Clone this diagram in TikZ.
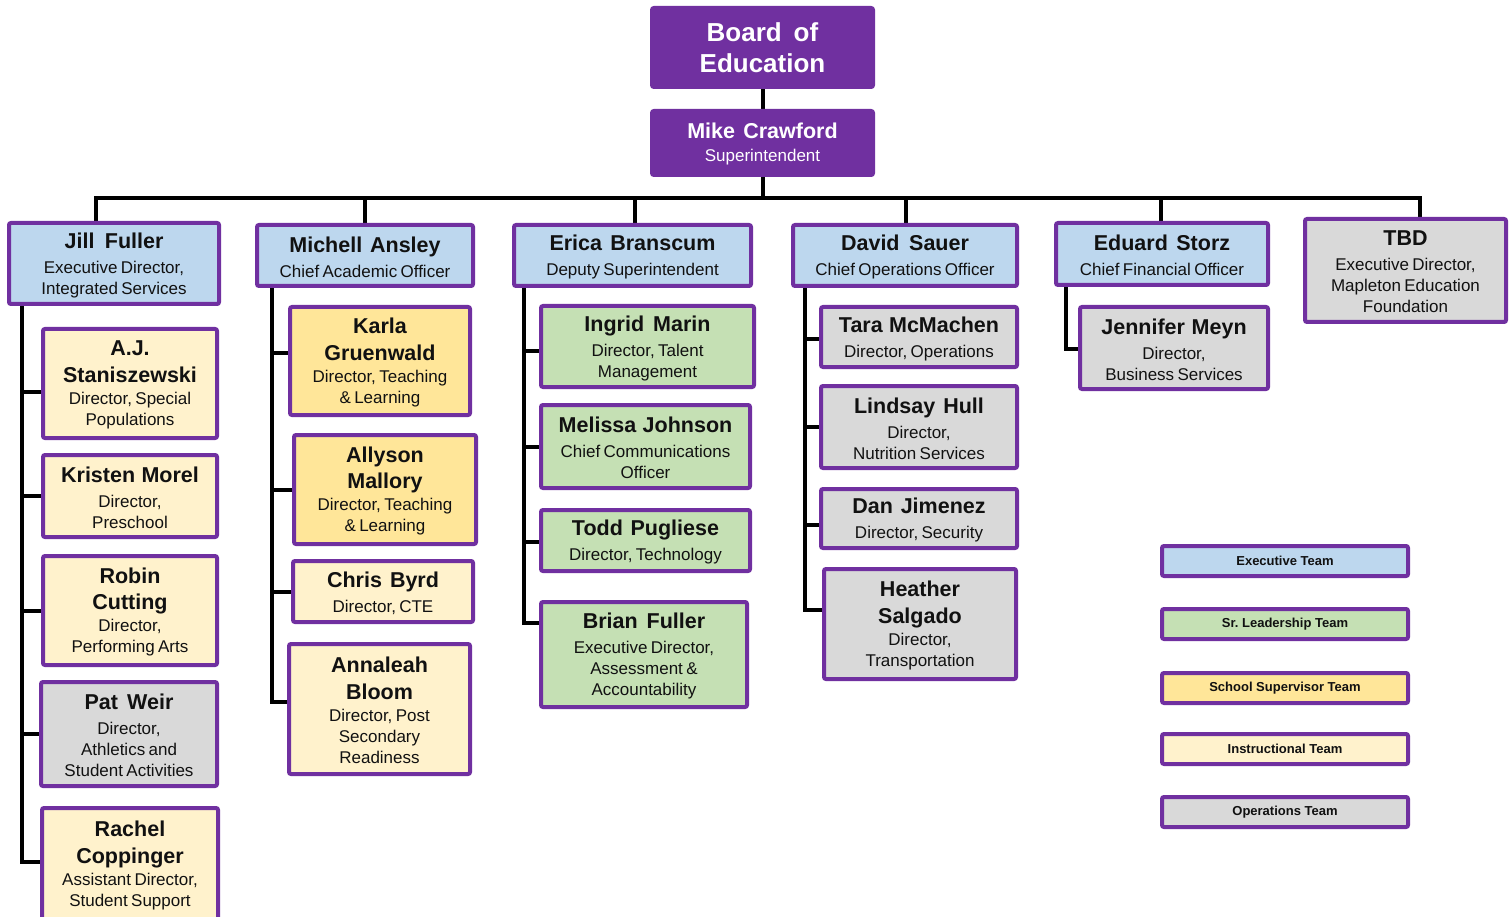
\documentclass[tikz,border=0pt]{standalone}
\usepackage{fontspec}
\setmainfont{Liberation Sans}
\usetikzlibrary{backgrounds}
\frenchspacing
\definecolor{purp}{HTML}{7030A0}
\definecolor{blueF}{HTML}{BDD7EE}
\definecolor{greenF}{HTML}{C5E0B4}
\definecolor{yDark}{HTML}{FFE699}
\definecolor{yLight}{HTML}{FFF2CC}
\definecolor{greyF}{HTML}{D9D9D9}
\definecolor{txt}{HTML}{111111}
\newcommand\orgnm{\fontsize{21.5}{23.5}\selectfont\bfseries\spaceskip=0.22em plus 0.1em}
\newcommand\orgds{\fontsize{17}{21}\selectfont}
\newcommand\orglg{\fontsize{13}{15}\selectfont\bfseries\frenchspacing}
\newcommand\pp[2]{\vspace*{3pt}{\orgnm #1\par}\vspace{1pt}{\orgds #2\par}\vspace*{-3pt}}
\tikzset{
  box/.style={draw=purp, line width=4pt, rounded corners=2pt, align=center, inner sep=3pt, text=txt},
  conn/.style={line width=4pt, black, line join=miter},
  head/.style={box, fill=purp, text=white},
}
\begin{document}
\begin{tikzpicture}[x=1pt,y=-1pt]
\useasboundingbox (0,0) rectangle (1510,917);
\coordinate (bus) at (762.5,198);
\coordinate (tJ) at (22,300);
\coordinate (tM) at (272,284);
\coordinate (tE) at (524,284);
\coordinate (tD) at (805,284);
\coordinate (tS) at (1066,284);

% Top boxes
\node[head, minimum width=221pt, minimum height=79pt, text width=215pt] (board) at (762.5,47.5)
  {\fontsize{26}{31}\selectfont\bfseries\spaceskip=0.2em plus 0.1em Board of\\Education\par};
\node[head, minimum width=221pt, minimum height=64pt, text width=215pt] (mike) at (762.5,143)
  {\vspace*{2pt}{\orgnm Mike Crawford\par}{\orgds Superintendent\par}\vspace*{-2pt}};

% Executive team
\node[box, fill=blueF, minimum width=210pt, minimum height=81pt, text width=204pt] (jill) at (114,263.5)
  {\pp{Jill Fuller}{Executive Director,\\Integrated Services}};
\node[box, fill=blueF, minimum width=216pt, minimum height=61pt, text width=210pt] (michell) at (365,255.5)
  {\pp{Michell Ansley}{Chief Academic Officer}};
\node[box, fill=blueF, minimum width=237pt, minimum height=61pt, text width=231pt] (erica) at (632.5,255.5)
  {\pp{Erica Branscum}{Deputy Superintendent}};
\node[box, fill=blueF, minimum width=224pt, minimum height=61pt, text width=218pt] (david) at (905,255.5)
  {\pp{David Sauer}{Chief Operations Officer}};
\node[box, fill=blueF, minimum width=212pt, minimum height=62pt, text width=206pt] (eduard) at (1162,254)
  {\pp{Eduard Storz}{Chief Financial Officer}};
\node[box, fill=greyF, minimum width=201pt, minimum height=103pt, text width=195pt] (tbd) at (1405.5,270.5)
  {\pp{TBD}{Executive Director,\\Mapleton Education\\Foundation}};

% Jill Fuller column
\node[box, fill=yLight, minimum width=174pt, minimum height=109pt, text width=168pt] (aj) at (130,383.5)
  {\pp{A.J.\\Staniszewski}{Director, Special\\Populations}};
\node[box, fill=yLight, minimum width=174pt, minimum height=82pt, text width=168pt] (kristen) at (130,496)
  {\pp{Kristen Morel}{Director,\\Preschool}};
\node[box, fill=yLight, minimum width=174pt, minimum height=109pt, text width=168pt] (robin) at (130,610.5)
  {\pp{Robin\\Cutting}{Director,\\Performing Arts}};
\node[box, fill=greyF, minimum width=176pt, minimum height=104pt, text width=170pt] (pat) at (129,734)
  {\pp{Pat Weir}{Director,\\Athletics and\\Student Activities}};
\node[box, fill=yLight, minimum width=176pt, minimum height=112pt, text width=170pt] (rachel) at (130,864)
  {\pp{Rachel\\Coppinger}{Assistant Director,\\Student Support}};

% Michell Ansley column
\node[box, fill=yDark, minimum width=180pt, minimum height=108pt, text width=174pt] (karla) at (380,361)
  {\pp{Karla\\Gruenwald}{Director, Teaching\\\& Learning}};
\node[box, fill=yDark, minimum width=182pt, minimum height=109pt, text width=176pt] (allyson) at (385,489.5)
  {\pp{Allyson\\Mallory}{Director, Teaching\\\& Learning}};
\node[box, fill=yLight, minimum width=180pt, minimum height=61pt, text width=174pt] (chris) at (383,591.5)
  {\pp{Chris Byrd}{Director, CTE}};
\node[box, fill=yLight, minimum width=181pt, minimum height=130pt, text width=175pt] (annaleah) at (379.5,709)
  {\pp{Annaleah\\Bloom}{Director, Post\\Secondary\\Readiness}};

% Erica Branscum column
\node[box, fill=greenF, minimum width=213pt, minimum height=81pt, text width=207pt] (ingrid) at (647.5,346.5)
  {\pp{Ingrid Marin}{Director, Talent\\Management}};
\node[box, fill=greenF, minimum width=209pt, minimum height=83pt, text width=203pt] (melissa) at (645.5,446.5)
  {\pp{Melissa Johnson}{Chief Communications\\Officer}};
\node[box, fill=greenF, minimum width=209pt, minimum height=61pt, text width=203pt] (todd) at (645.5,540.5)
  {\pp{Todd Pugliese}{Director, Technology}};
\node[box, fill=greenF, minimum width=206pt, minimum height=105pt, text width=200pt] (brian) at (644,654.5)
  {\pp{Brian Fuller}{Executive Director,\\Assessment \&\\Accountability}};

% David Sauer column
\node[box, fill=greyF, minimum width=196pt, minimum height=60pt, text width=190pt] (tara) at (919,337)
  {\pp{Tara McMachen}{Director, Operations}};
\node[box, fill=greyF, minimum width=196pt, minimum height=82pt, text width=190pt] (lindsay) at (919,427)
  {\pp{Lindsay Hull}{Director,\\Nutrition Services}};
\node[box, fill=greyF, minimum width=196pt, minimum height=59pt, text width=190pt] (dan) at (919,518.5)
  {\pp{Dan Jimenez}{Director, Security}};
\node[box, fill=greyF, minimum width=192pt, minimum height=110pt, text width=186pt] (heather) at (920,624)
  {\pp{Heather\\Salgado}{Director,\\Transportation}};

% Eduard Storz column
\node[box, fill=greyF, minimum width=188pt, minimum height=82pt, text width=182pt] (jennifer) at (1174,348)
  {\pp{Jennifer Meyn}{Director,\\Business Services}};

% Legend
\node[box, fill=blueF, minimum width=246pt, minimum height=30pt] (lgExec) at (1285,561) {\orglg Executive Team};
\node[box, fill=greenF, minimum width=246pt, minimum height=30pt] (lgSr) at (1285,624) {\orglg Sr. Leadership Team};
\node[box, fill=yDark, minimum width=246pt, minimum height=30pt] (lgSS) at (1285,688) {\orglg School Supervisor Team};
\node[box, fill=yLight, minimum width=246pt, minimum height=30pt] (lgIn) at (1285,749) {\orglg Instructional Team};
\node[box, fill=greyF, minimum width=246pt, minimum height=30pt] (lgOp) at (1285,812) {\orglg Operations Team};

% Connectors (behind boxes)
\begin{scope}[on background layer]
\draw[conn] (board) -- (mike);
\draw[conn] (mike.south) -- (bus);
\draw[conn] ([xshift=-18pt]jill.north) |- (bus);
\draw[conn] (michell.north) |- (bus);
\draw[conn] ([xshift=2.5pt]erica.north) |- (bus);
\draw[conn] ([xshift=1pt]david.north) |- (bus);
\draw[conn] ([xshift=-1pt]eduard.north) |- (bus);
\draw[conn] ([xshift=14.5pt]tbd.north) |- (bus);
% Jill
\draw[conn] ([yshift=-8.5pt]aj.west) -| (tJ);
\draw[conn] (kristen.west) -| (tJ);
\draw[conn] (robin.west) -| (tJ);
\draw[conn] (pat.west) -| (tJ);
\draw[conn] ([yshift=2pt]rachel.west) -| (tJ);
% Michell
\draw[conn] ([yshift=8pt]karla.west) -| (tM);
\draw[conn] (allyson.west) -| (tM);
\draw[conn] (chris.west) -| (tM);
\draw[conn] ([yshift=7pt]annaleah.west) -| (tM);
% Erica
\draw[conn] ([yshift=-4.5pt]ingrid.west) -| (tE);
\draw[conn] (melissa.west) -| (tE);
\draw[conn] ([yshift=-1.5pt]todd.west) -| (tE);
\draw[conn] ([yshift=31.5pt]brian.west) -| (tE);
% David
\draw[conn] ([yshift=-2pt]tara.west) -| (tD);
\draw[conn] (lindsay.west) -| (tD);
\draw[conn] ([yshift=-6.5pt]dan.west) -| (tD);
\draw[conn] ([yshift=14pt]heather.west) -| (tD);
% Eduard
\draw[conn] ([yshift=-1pt]jennifer.west) -| (tS);
\end{scope}
\end{tikzpicture}
\end{document}
